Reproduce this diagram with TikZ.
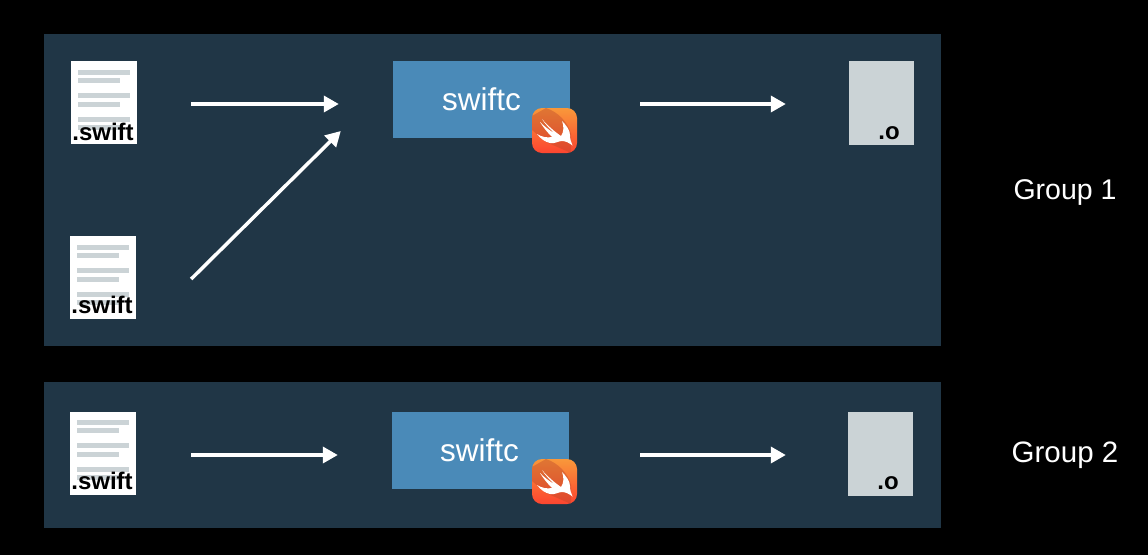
\documentclass[tikz,border=0pt]{standalone}
\usepackage{fontspec}
\setmainfont{Liberation Sans}
\usetikzlibrary{arrows.meta}
\definecolor{panelcol}{HTML}{203646}
\definecolor{boxcol}{HTML}{4A8AB8}
\definecolor{inkcol}{HTML}{CBD3D6}
\definecolor{badgetop}{HTML}{F9983A}
\definecolor{badgelow}{HTML}{FC4530}
\definecolor{badgeband}{HTML}{B8452A}

\newcommand{\doclines}[1]{
  \foreach \ytop/\len in {9/52, 17/42, 32/52, 41/42, 56/52, 64/42}
    \fill[inkcol] ([shift={(7pt,-\ytop pt)}]#1.north west) rectangle ++(\len,5);
}

\tikzset{
  panel/.style={fill=panelcol, draw=none, minimum width=897pt, inner sep=0pt},
  srcfile/.style={fill=white, draw=none, minimum width=66pt, minimum height=83pt, inner sep=0pt},
  objfile/.style={fill=inkcol, draw=none, minimum width=65pt, minimum height=84pt, inner sep=0pt},
  compiler/.style={fill=boxcol, draw=none, minimum width=177pt, minimum height=77pt, inner sep=0pt,
    text=white, font=\fontsize{31.5}{34}\selectfont},
  filetag/.style={text=black, inner sep=0pt, font=\fontsize{24}{26}\selectfont\bfseries},
  grouplabel/.style={text=white, inner sep=0pt, font=\fontsize{28.5}{31}\selectfont},
  flow/.style={draw=white, line width=3.5pt, -{Triangle[length=15pt,width=16pt]}},
  swiftbadge/.pic={
    \begin{scope}
      \clip[rounded corners=10pt] (0,0) rectangle (45,45);
      \shade[top color=badgetop, bottom color=badgelow] (0,0) rectangle (45,45);
      \fill[badgeband, opacity=.4] (0,8) -- (14,0) .. controls (26,4) and (36,14) .. (39,26)
        -- (39,45) -- (14,34) -- (0,22) -- cycle;
    \end{scope}
    \fill[white] (5,26) .. controls (9,31) and (13,34) .. (18,35)
      .. controls (23,36) and (26,33) .. (30,33)
      .. controls (34,33) and (37,35) .. (40.5,37.5)
      .. controls (39,34) and (38,31) .. (38,27)
      .. controls (38,22) and (34,17) .. (30,13)
      .. controls (32,18) and (32,24) .. (29,28)
      .. controls (23,24) and (15,17) .. (10,11)
      .. controls (13,16) and (18,21) .. (22,25)
      .. controls (17,22) and (12,18) .. (8,14)
      .. controls (11,19) and (15,24) .. (20,29)
      .. controls (15,30) and (10,29) .. (5,26) -- cycle;
  },
}

\begin{document}
\begin{tikzpicture}[x=1pt, y=-1pt]
      \fill[black] (0,0) rectangle (1148,555);
      \useasboundingbox (0,0) rectangle (1148,555);

      % group panels
      \node[panel, minimum height=312pt] (panelA) at (492.5,190) {};
      \node[panel, minimum height=146pt] (panelB) at (492.5,455) {};

      % group 1
      \node[srcfile] (srcA) at (104,102.5) {};
      \node[srcfile] (srcB) at (103,277.5) {};
      \node[compiler] (swiftcA) at (481.5,99.5) {swiftc};
      \node[objfile] (objA) at (881.5,103) {};
      \doclines{srcA}
      \doclines{srcB}
      \node[filetag] (tagA) at (103,132) {.swift};
      \node[filetag] (tagB) at (102,305) {.swift};
      \node[filetag] (tagC) at (889,133) {.o};
      \pic at (532,108) {swiftbadge};

      % group 2
      \node[srcfile] (srcC) at (103,453) {};
      \node[compiler] (swiftcB) at (480.5,450.5) {\hspace{-2pt}swiftc};
      \node[objfile] (objB) at (880.5,453.5) {};
      \doclines{srcC}
      \node[filetag] (tagD) at (102,481) {.swift};
      \node[filetag] (tagE) at (888,483) {.o};
      \pic at (532,459) {swiftbadge};

      % arrows
      \draw[flow] ([shift={(54pt,-1.5pt)}]srcA.east) -- ([shift={(-54pt,-4.5pt)}]swiftcA.west);
      \draw[flow] ([shift={(55pt,-1.5pt)}]srcB.east) -- ([shift={(-52pt,-31.5pt)}]swiftcA.west);
      \draw[flow] ([shift={(70pt,-4.5pt)}]swiftcA.east) -- ([shift={(-63pt,-1pt)}]objA.west);
      \draw[flow] ([shift={(55pt,-2pt)}]srcC.east) -- ([shift={(-54pt,-4.5pt)}]swiftcB.west);
      \draw[flow] ([shift={(71pt,-4.5pt)}]swiftcB.east) -- ([shift={(-62pt,-1.5pt)}]objB.west);

      \node[grouplabel] (labelA) at (1065,193) {Group 1};
      \node[grouplabel, font=\fontsize{29.5}{32}\selectfont] (labelB) at (1065,455) {Group 2};
\end{tikzpicture}
\end{document}
